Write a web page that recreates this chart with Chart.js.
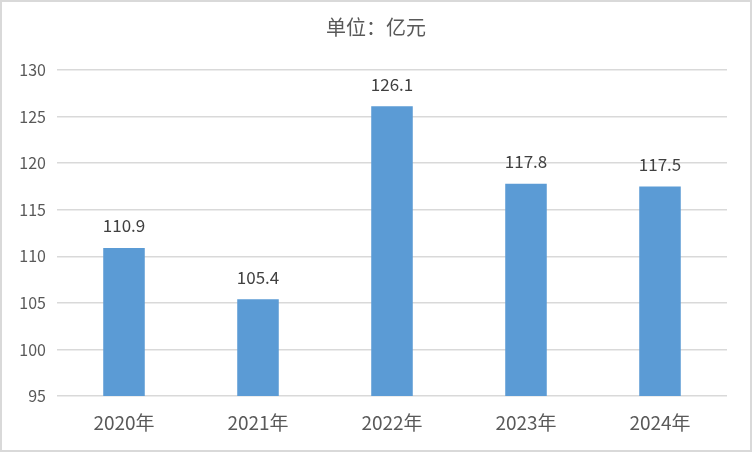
<!DOCTYPE html>
<html>
<head>
<meta charset="utf-8">
<script src="https://cdn.jsdelivr.net/npm/chart.js@4"></script>
<style>
  html, body { margin: 0; padding: 0; background: #fff; }
  #wrap { width: 752px; height: 452px; box-sizing: border-box; border: 2px solid #d9d9d9; }
  canvas { display: block; }
</style>
</head>
<body>
<div id="wrap"><canvas id="barChartContainer" width="748" height="448"></canvas></div>
<script>
const categories = ['2020年', '2021年', '2022年', '2023年', '2024年'];
const values = [110.9, 105.4, 126.1, 117.8, 117.5];
const yTicks = [95, 100, 105, 110, 115, 120, 125, 130];
const unitTitle = '单位：亿元';

const fontFamily = '"Microsoft YaHei", "Noto Sans CJK SC", "DejaVu Sans", sans-serif';

// title and value labels drawn on top
const labelPlugin = {
    id: 'labels',
    afterDatasetsDraw(chart) {
        const ctx = chart.ctx;
        ctx.save();
        ctx.textAlign = 'center';
        ctx.textBaseline = 'middle';
        ctx.fillStyle = '#595959';
        ctx.font = '20px ' + fontFamily;
        ctx.fillText(unitTitle, chart.width / 2, 25);
        ctx.fillStyle = '#404040';
        ctx.font = '17px ' + fontFamily;
        const meta = chart.getDatasetMeta(0);
        meta.data.forEach((bar, i) => {
            ctx.fillText(values[i].toFixed(1), bar.x, bar.y - 22);
        });
        ctx.restore();
    }
};

const barChartContainer = document.getElementById('barChartContainer');

new Chart(barChartContainer, {
    type: 'bar',
    data: {
        labels: categories,
        datasets: [{
            data: values,
            backgroundColor: '#5b9bd5',
            categoryPercentage: 1,
            barPercentage: 0.31
        }]
    },
    options: {
        responsive: false,
        animation: false,
        layout: { padding: { top: 68, right: 23, left: 0, bottom: 0 } },
        plugins: {
            legend: { display: false },
            tooltip: { enabled: false }
        },
        scales: {
            x: {
                grid: { display: false },
                border: { display: false },
                ticks: { color: '#595959', font: { size: 19, family: fontFamily }, padding: 7 },
                afterFit: s => { s.height = 54; }
            },
            y: {
                min: 95,
                max: 130,
                afterBuildTicks: s => { s.ticks = yTicks.map(v => ({ value: v })); },
                grid: { color: '#d9d9d9', lineWidth: 1.5, drawTicks: false },
                border: { display: false },
                ticks: { color: '#595959', font: { size: 16, family: fontFamily }, padding: 11 },
                afterFit: s => { s.width = 55; }
            }
        }
    },
    plugins: [labelPlugin]
});
</script>
</body>
</html>
